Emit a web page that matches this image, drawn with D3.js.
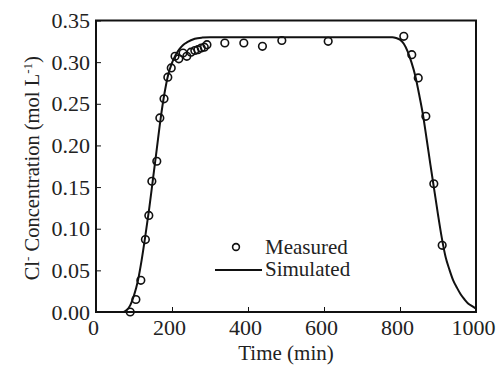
<!DOCTYPE html>
<html>
<head>
<meta charset="utf-8">
<script src="https://cdn.jsdelivr.net/npm/d3@7"></script>
<style>
  body { margin: 0; background: #fff; }
  text { font-family: "Liberation Serif", "Times New Roman", serif; fill: #222; }
</style>
</head>
<body>
<svg id="chart" width="502" height="365"></svg>
<script>
// measured Cl- concentration
const measTime = [90, 105, 118, 130, 139, 147, 160, 168, 179, 189, 198, 208, 218, 229, 239,
  250, 260, 268, 277, 285, 292, 339, 389, 438, 489, 611, 810, 831, 848, 868, 889, 911];
const measConc = [0.000, 0.015, 0.038, 0.087, 0.116, 0.157, 0.181, 0.233, 0.256, 0.282, 0.293, 0.307, 0.304, 0.311, 0.307,
  0.312, 0.314, 0.315, 0.317, 0.318, 0.321, 0.323, 0.323, 0.319, 0.326, 0.325, 0.331, 0.309, 0.281, 0.235, 0.154, 0.080];

// simulated curve
const simTime = [0, 60, 72, 80, 90, 100, 110, 120, 130, 140, 150, 160, 170, 180, 190, 200, 210, 220, 230, 240, 260, 280, 300,
  500, 700, 780, 790, 800, 810, 820, 830, 840, 850, 860, 870, 880, 890, 900, 910, 920, 930, 940, 950, 960, 970, 980, 990, 1000];
const simConc = [0, 0, 0, 0.002, 0.008, 0.02, 0.037, 0.062, 0.092, 0.124, 0.16, 0.196, 0.232, 0.262, 0.285, 0.299, 0.309, 0.316, 0.321, 0.324, 0.328, 0.3295, 0.330,
  0.330, 0.330, 0.330, 0.329, 0.327, 0.322, 0.313, 0.300, 0.284, 0.262, 0.238, 0.208, 0.177, 0.147, 0.117, 0.089, 0.066, 0.051, 0.038, 0.029, 0.021, 0.015, 0.010, 0.007, 0.004];

const xTicks = [0, 200, 400, 600, 800, 1000];
const yTicks = [0, 0.05, 0.10, 0.15, 0.20, 0.25, 0.30, 0.35];

const svg = d3.select('#chart');
const mLeft = 96, mRight = 476, mTop = 20.5, mBottom = 312;
const fs = 22;

const x = d3.scaleLinear().domain([0, 1000]).range([mLeft, mRight]);
const y = d3.scaleLinear().domain([0, 0.35]).range([mBottom, mTop]);

// frame
svg.append('rect')
  .attr('x', mLeft).attr('y', mTop)
  .attr('width', mRight - mLeft).attr('height', mBottom - mTop)
  .attr('fill', 'none').attr('stroke', '#111').attr('stroke-width', 2);

// x axis (inward ticks)
const xAxis = svg.append('g')
  .attr('transform', 'translate(0,' + mBottom + ')')
  .call(d3.axisBottom(x).tickValues(xTicks).tickSizeInner(-5).tickSizeOuter(0).tickPadding(7).tickFormat(d3.format('d')));
xAxis.select('.domain').remove();
xAxis.selectAll('line').attr('stroke', '#111').attr('stroke-width', 1);
xAxis.selectAll('text').attr('font-size', fs).attr('dx', -3).style('font-family', '"Liberation Serif", serif').attr('fill', '#222');

// y axis
const yAxis = svg.append('g')
  .attr('transform', 'translate(' + mLeft + ',0)')
  .call(d3.axisLeft(y).tickValues(yTicks).tickSizeInner(-5).tickSizeOuter(0).tickPadding(6).tickFormat(d3.format('.2f')));
yAxis.select('.domain').remove();
yAxis.selectAll('line').attr('stroke', '#111').attr('stroke-width', 1);
yAxis.selectAll('text').attr('font-size', fs).style('font-family', '"Liberation Serif", serif').attr('fill', '#222');

// simulated line
const simData = simTime.map((t, i) => [t, simConc[i]]);
svg.append('path')
  .datum(simData)
  .attr('fill', 'none')
  .attr('stroke', '#111')
  .attr('stroke-width', 2)
  .attr('d', d3.line().x(d => x(d[0])).y(d => y(d[1])).curve(d3.curveMonotoneX));

// measured points
svg.append('g').selectAll('circle')
  .data(measTime.map((t, i) => [t, measConc[i]]))
  .enter()
  .append('circle')
  .attr('cx', d => x(d[0]))
  .attr('cy', d => y(d[1]))
  .attr('r', 3.8)
  .attr('fill', 'none')
  .attr('stroke', '#111')
  .attr('stroke-width', 1.6);

// legend
const lg = svg.append('g');
lg.append('circle').attr('cx', 236).attr('cy', 247).attr('r', 3.4)
  .attr('fill', 'none').attr('stroke', '#111').attr('stroke-width', 1.6);
lg.append('text').attr('x', 265).attr('y', 254).attr('font-size', 21).text('Measured');
lg.append('line').attr('x1', 215).attr('x2', 262).attr('y1', 270).attr('y2', 270)
  .attr('stroke', '#111').attr('stroke-width', 2);
lg.append('text').attr('x', 265).attr('y', 276).attr('font-size', 21).text('Simulated');

// axis titles
svg.append('text')
  .attr('x', (mLeft + mRight) / 2).attr('y', 360)
  .attr('text-anchor', 'middle').attr('font-size', 21)
  .text('Time (min)');

const yt = svg.append('text')
  .attr('transform', 'translate(39,' + ((mTop + mBottom) / 2 + 2) + ') rotate(-90)')
  .attr('text-anchor', 'middle').attr('font-size', 20.5);
yt.append('tspan').text('Cl');
yt.append('tspan').attr('dy', -7).attr('font-size', 13).text('-');
yt.append('tspan').attr('dy', 7).text(' Concentration (mol L');
yt.append('tspan').attr('dy', -7).attr('font-size', 13).text('-1');
yt.append('tspan').attr('dy', 7).text(')');
</script>
</body>
</html>
